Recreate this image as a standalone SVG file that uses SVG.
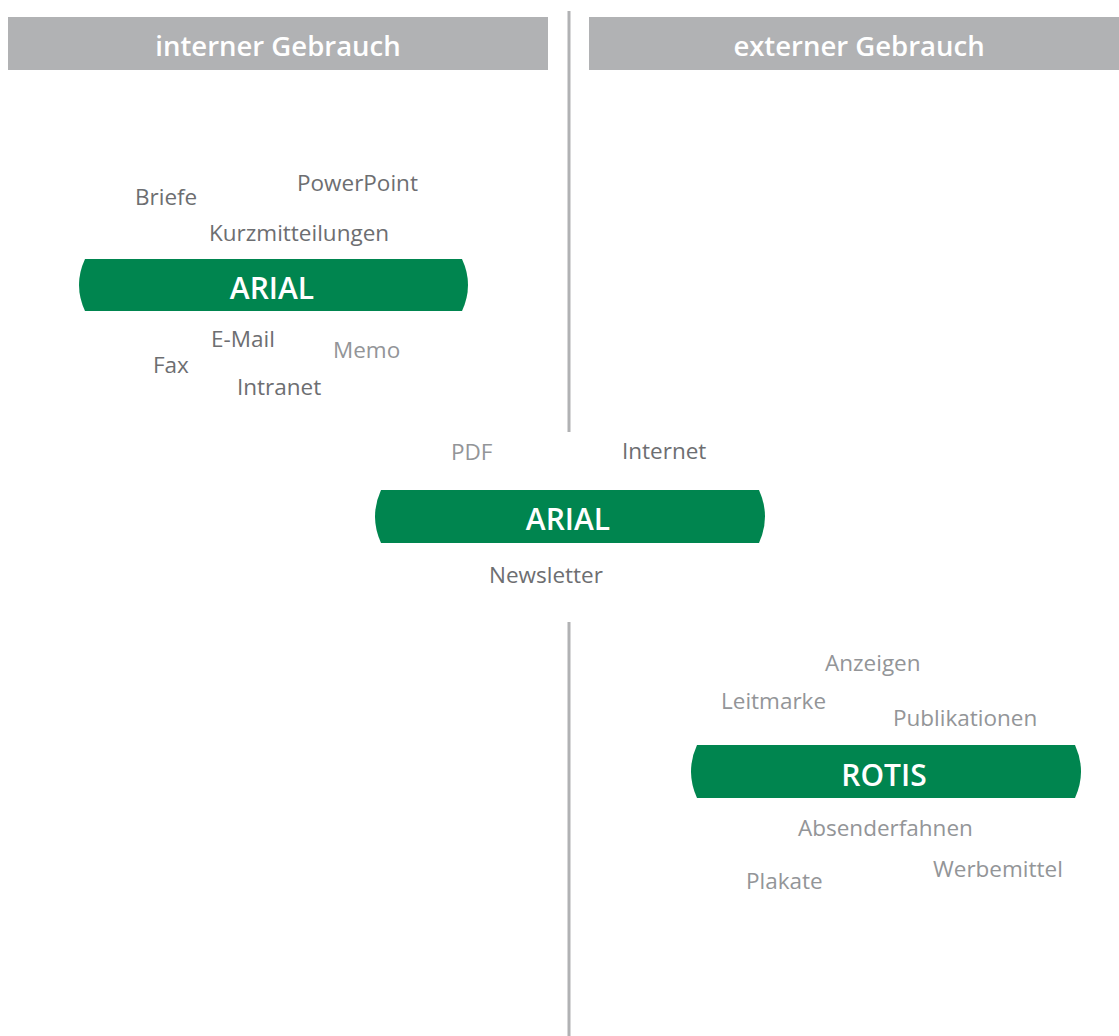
<svg xmlns="http://www.w3.org/2000/svg" width="1119" height="1036" viewBox="0 0 1119 1036">
<style>
.hdr{fill:#b1b2b4}
.hdrt{font-family:"Open Sans",sans-serif;font-size:27.5px;font-weight:600;fill:#ffffff;text-anchor:middle}
.pill{fill:#00854f}
.pillt{font-family:"Open Sans",sans-serif;font-size:30px;font-weight:600;fill:#ffffff;text-anchor:middle}
.lbl{font-family:"Open Sans",sans-serif;font-size:22.5px;fill:#6d6e71}
.lt{fill:#939598}
.div{stroke:#b1b2b4;stroke-width:3;fill:none}
</style>
<rect width="1119" height="1036" fill="#ffffff"/>
<g id="connectors">
<line class="div" x1="569" y1="11" x2="569" y2="432"/>
<line class="div" x1="569" y1="622" x2="569" y2="1036"/>
</g>
<g id="header-intern">
<rect class="hdr" x="8" y="17" width="540" height="53"/>
<text class="hdrt" x="278" y="56">interner Gebrauch</text>
</g>
<g id="header-extern">
<rect class="hdr" x="589" y="17" width="530" height="53"/>
<text class="hdrt" x="859" y="56">externer Gebrauch</text>
</g>
<g id="pill-arial-intern">
<path class="pill" d="M85,259 L462,259 Q474,285 462,311 L85,311 Q73,285 85,259 Z"/>
<text class="pillt" x="272" y="299">ARIAL</text>
</g>
<g id="pill-arial-mixed">
<path class="pill" d="M381,490 L759,490 Q771,516.5 759,543 L381,543 Q369,516.5 381,490 Z"/>
<text class="pillt" x="568" y="530">ARIAL</text>
</g>
<g id="pill-rotis">
<path class="pill" d="M697,745 L1075,745 Q1087,771.5 1075,798 L697,798 Q685,771.5 697,745 Z"/>
<text class="pillt" x="884" y="786">ROTIS</text>
</g>
<g id="labels-intern">
<text class="lbl" x="135" y="205">Briefe</text>
<text class="lbl" x="297" y="191">PowerPoint</text>
<text class="lbl" x="209" y="241">Kurzmitteilungen</text>
<text class="lbl" x="211" y="347">E-Mail</text>
<text class="lbl lt" x="333" y="358">Memo</text>
<text class="lbl" x="153" y="373">Fax</text>
<text class="lbl" x="237" y="395">Intranet</text>
</g>
<g id="labels-mixed">
<text class="lbl lt" x="451" y="460">PDF</text>
<text class="lbl" x="622" y="459">Internet</text>
<text class="lbl" x="489" y="583">Newsletter</text>
</g>
<g id="labels-extern">
<text class="lbl lt" x="825" y="671">Anzeigen</text>
<text class="lbl lt" x="721" y="709">Leitmarke</text>
<text class="lbl lt" x="893" y="726">Publikationen</text>
<text class="lbl lt" x="798" y="836">Absenderfahnen</text>
<text class="lbl lt" x="933" y="877">Werbemittel</text>
<text class="lbl lt" x="746" y="889">Plakate</text>
</g>
</svg>
